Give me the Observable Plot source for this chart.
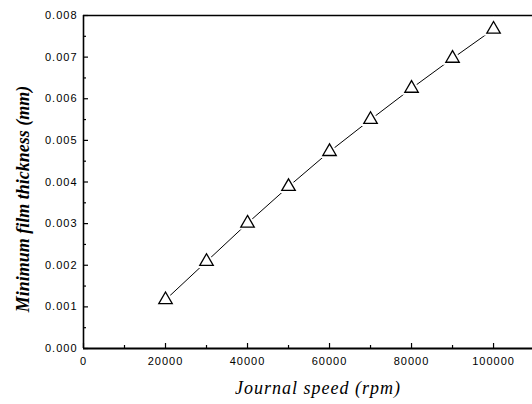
<!DOCTYPE html>
<html><head><meta charset="utf-8">
<script src="https://cdn.jsdelivr.net/npm/d3@7"></script>
<script src="https://cdn.jsdelivr.net/npm/@observablehq/plot@0.6"></script>
<style>body{margin:0;background:#fff}</style>
</head><body><div id="chart"></div>
<script>
const speeds = [20000, 30000, 40000, 50000, 60000, 70000, 80000, 90000, 100000];
const thickness = [0.00117, 0.00209, 0.00301, 0.00389, 0.00473, 0.00550, 0.00625, 0.00697, 0.00767];
const xMajor = [0, 20000, 40000, 60000, 80000, 100000];
const xMinor = [10000, 30000, 50000, 70000, 90000];
const yMajor = [0, 0.001, 0.002, 0.003, 0.004, 0.005, 0.006, 0.007, 0.008];
const yMinor = [0.0005, 0.0015, 0.0025, 0.0035, 0.0045, 0.0055, 0.0065, 0.0075];
const xTitle = "Journal speed (rpm)";
const yTitle = "Minimum film thickness (mm)";

const W = 532, H = 404, mL = 83, mR = 0, mT = 15, mB = 56;
const innerW = W - mL - mR, innerH = H - mT - mB;
const data = speeds.map((s, i) => ({speed: s, h: thickness[i]}));
const serif = "'Liberation Serif', 'Times New Roman', serif";

const chart = Plot.plot({
  width: W, height: H,
  marginLeft: mL, marginRight: mR, marginTop: mT, marginBottom: mB,
  x: {domain: [0, 109500]},
  y: {domain: [0, 0.008]},
  style: {fontFamily: "'Liberation Sans', Arial, sans-serif", background: "white", color: "black"},
  marks: [
    Plot.axisX(xMajor, {tickSize: 0, tickPadding: 9, fontSize: 11, label: null, tickFormat: d => String(d)}),
    Plot.axisY(yMajor, {tickSize: 0, tickPadding: 6, fontSize: 11, label: null, tickFormat: d => d.toFixed(3)}),
    Plot.ruleX(xMajor, {x: d => d, insetTop: innerH - 5, strokeWidth: 1.2}),
    Plot.ruleX(xMinor, {x: d => d, insetTop: innerH - 3, strokeWidth: 1.2}),
    Plot.ruleY(yMajor, {y: d => d, insetRight: innerW - 5, strokeWidth: 1.2}),
    Plot.ruleY(yMinor, {y: d => d, insetRight: innerW - 3, strokeWidth: 1.2}),
    Plot.ruleX([0], {strokeWidth: 1.6}),
    Plot.ruleY([0], {strokeWidth: 1.8}),
    Plot.ruleY([0.008], {strokeWidth: 1.4}),
    Plot.line(data, {x: "speed", y: "h", stroke: "black", strokeWidth: 1}),
    Plot.dot(data, {x: "speed", y: "h", symbol: "triangle", r: 5, fill: "white", stroke: "white", strokeWidth: 5}),
    Plot.dot(data, {x: "speed", y: "h", symbol: "triangle", r: 5, fill: "white", stroke: "black", strokeWidth: 1.3}),
    Plot.text([yTitle], {text: d => d, frameAnchor: "left", textAnchor: "middle", lineAnchor: "middle", dx: -60, dy: 17, rotate: -90, fontSize: 18, fontStyle: "italic", fontWeight: "bold", fontFamily: serif}),
    Plot.text([xTitle], {text: d => d, frameAnchor: "bottom", textAnchor: "middle", lineAnchor: "middle", dy: 40, dx: 10, fontSize: 18, fontStyle: "italic", fontFamily: serif})
  ]
});
document.getElementById("chart").appendChild(chart);
document.querySelectorAll('[aria-label="x-axis tick label"] text, [aria-label="y-axis tick label"] text').forEach(t => t.style.letterSpacing = "1px");
document.querySelectorAll('[aria-label="text"] text').forEach((t, i) => t.style.letterSpacing = i === 0 ? "0px" : "1px");
</script>
</body></html>
